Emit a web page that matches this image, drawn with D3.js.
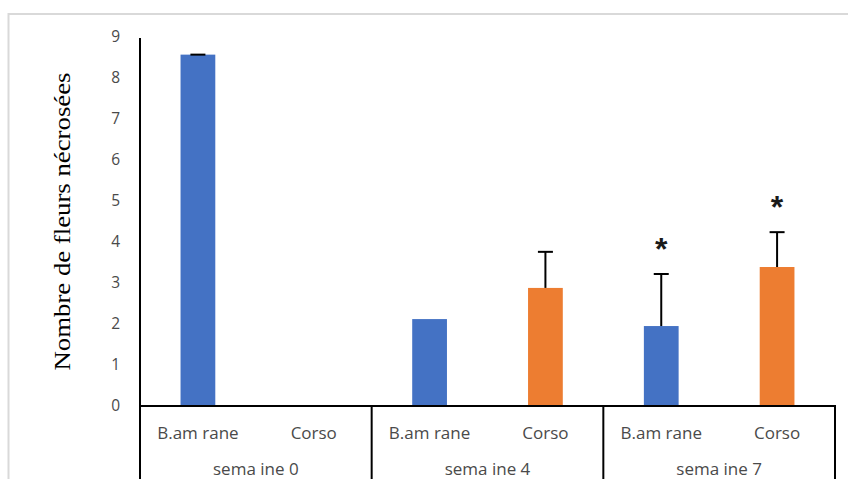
<!DOCTYPE html>
<html>
<head>
<meta charset="utf-8">
<script src="https://cdn.jsdelivr.net/npm/d3@7"></script>
<style>
  html, body { margin: 0; padding: 0; background: #fff; }
  svg { display: block; }
</style>
</head>
<body>
<svg id="chart" width="848" height="479"></svg>
<script>
// Weeks (outer categories) and varieties (inner categories)
const weeks = ["sema ine 0", "sema ine 4", "sema ine 7"];
const varieties = ["B.am rane", "Corso"];

// Mean number of necrotic flowers per variety, one value per week
const bamraneValues = [8.57, 2.12, 1.95];
const corsoValues = [null, 2.88, 3.39];

// Standard errors (null = no error bar)
const bamraneErrors = [0, null, 1.27];
const corsoErrors = [null, 0.88, 0.85];

// Significance marks per week
const bamraneSignif = ["", "", "*"];
const corsoSignif = ["", "", "*"];

const yTicks = [0, 1, 2, 3, 4, 5, 6, 7, 8, 9];
const colors = { "B.am rane": "#4472C4", "Corso": "#ED7D31" };

const rows = [];
weeks.forEach((w, i) => {
  rows.push({ week: w, variety: varieties[0], value: bamraneValues[i], err: bamraneErrors[i], sig: bamraneSignif[i] });
  rows.push({ week: w, variety: varieties[1], value: corsoValues[i], err: corsoErrors[i], sig: corsoSignif[i] });
});

const svg = d3.select("#chart");
const plotLeft = 140, plotRight = 835, plotTop = 37, plotBase = 406;

// Outer frame
svg.append("rect")
  .attr("x", 8.5).attr("y", 14)
  .attr("width", 900).attr("height", 600)
  .attr("fill", "none").attr("stroke", "#d9d9d9").attr("stroke-width", 2);

const y = d3.scaleLinear().domain([0, 9]).range([plotBase, plotTop]);
const xWeek = d3.scaleBand().domain(weeks).range([plotLeft, plotRight]).padding(0);
const xVar = d3.scaleBand().domain(varieties).range([0, xWeek.bandwidth()]).padding(0);
const barW = xVar.bandwidth() * 0.3;
const cx = d => xWeek(d.week) + xVar(d.variety) + xVar.bandwidth() / 2;

const labelFont = "'Open Sans', Lato, sans-serif";
const labelColor = "#4a4a4a";

// Y axis tick labels
const yAxis = d3.axisLeft(y).tickValues(yTicks).tickSize(0).tickPadding(20).tickFormat(d3.format("d"));
const gy = svg.append("g").attr("transform", `translate(${plotLeft},0)`).call(yAxis);
gy.select(".domain").remove();
gy.selectAll("text")
  .attr("font-family", labelFont)
  .attr("font-size", 15.5)
  .attr("fill", labelColor);

// Y axis line
svg.append("line")
  .attr("x1", plotLeft).attr("x2", plotLeft)
  .attr("y1", plotTop + 1).attr("y2", 479)
  .attr("stroke", "#000").attr("stroke-width", 2);

// Y axis title
svg.append("text")
  .attr("transform", `translate(70,${(plotTop + plotBase) / 2}) rotate(-90)`)
  .attr("text-anchor", "middle")
  .attr("font-family", "'Liberation Serif', 'Times New Roman', serif")
  .attr("font-size", 24)
  .attr("textLength", 298)
  .attr("lengthAdjust", "spacingAndGlyphs")
  .attr("fill", "#000")
  .text("Nombre de fleurs nécrosées");

// Bars
const bars = rows.filter(d => d.value != null);
svg.append("g").selectAll("rect").data(bars).join("rect")
  .attr("x", d => cx(d) - barW / 2)
  .attr("width", barW)
  .attr("y", d => y(d.value))
  .attr("height", d => y(0) - y(d.value))
  .attr("fill", d => colors[d.variety]);

// Error bars (upper half)
const errs = rows.filter(d => d.value != null && d.err != null);
const capW = 15;
const ge = svg.append("g").attr("stroke", "#000").attr("stroke-width", 2);
ge.selectAll("line.stem").data(errs).join("line").attr("class", "stem")
  .attr("x1", cx).attr("x2", cx)
  .attr("y1", d => y(d.value)).attr("y2", d => y(d.value + d.err));
ge.selectAll("line.cap").data(errs).join("line").attr("class", "cap")
  .attr("x1", d => cx(d) - capW / 2).attr("x2", d => cx(d) + capW / 2)
  .attr("y1", d => y(d.value + d.err)).attr("y2", d => y(d.value + d.err));

// Significance stars
svg.append("g").selectAll("text").data(errs.filter(d => d.sig)).join("text")
  .attr("x", cx)
  .attr("y", d => y(d.value + d.err) - 14)
  .attr("text-anchor", "middle")
  .attr("font-family", "'Liberation Sans', Arial, sans-serif")
  .attr("font-weight", "bold")
  .attr("font-size", 32)
  .attr("fill", "#1a1a1a")
  .text(d => d.sig);

// Category axis: baseline and group separators
const ga = svg.append("g").attr("stroke", "#000").attr("stroke-width", 2);
ga.append("line").attr("x1", plotLeft).attr("x2", plotRight + 1).attr("y1", plotBase).attr("y2", plotBase);
ga.selectAll("line.sep").data(weeks.slice(1).map(w => xWeek(w)).concat([plotRight]))
  .join("line").attr("class", "sep")
  .attr("x1", d => d).attr("x2", d => d)
  .attr("y1", plotBase).attr("y2", 479);

// Variety labels
svg.append("g").selectAll("text").data(rows).join("text")
  .attr("x", cx)
  .attr("y", 439)
  .attr("text-anchor", "middle")
  .attr("font-family", labelFont)
  .attr("font-size", 17)
  .attr("fill", labelColor)
  .text(d => d.variety);

// Week labels
svg.append("g").selectAll("text").data(weeks).join("text")
  .attr("x", d => xWeek(d) + xWeek.bandwidth() / 2)
  .attr("y", 475)
  .attr("text-anchor", "middle")
  .attr("font-family", labelFont)
  .attr("font-size", 17)
  .attr("fill", labelColor)
  .text(d => d);
</script>
</body>
</html>
